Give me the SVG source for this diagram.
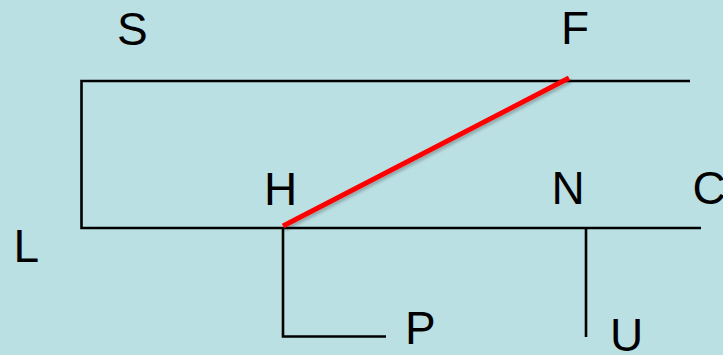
<svg xmlns="http://www.w3.org/2000/svg" width="723" height="355" viewBox="0 0 723 355">
<defs>
<style>
.ln{stroke:#000;stroke-width:2.6;fill:none}
.lb{font-family:"Liberation Sans",Arial,sans-serif;font-size:46px;fill:#000}
</style>
<filter id="sh" x="-10%" y="-10%" width="120%" height="130%">
<feDropShadow dx="1.5" dy="2.5" stdDeviation="1.5" flood-color="#000" flood-opacity="0.25"/>
</filter>
</defs>
<rect width="723" height="355" fill="#BBE0E3"/>
<g id="connectors">
<polyline class="ln" points="690,81 81.5,81 81.5,228 701,228"/>
<polyline class="ln" points="283,228 283,336.5 386,336.5"/>
<line class="ln" x1="586" y1="228" x2="586" y2="337"/>
<line x1="283" y1="226" x2="569" y2="78" stroke="#FF0000" stroke-width="5" filter="url(#sh)"/>
</g>
<g id="S"><text class="lb" x="117" y="45">S</text></g>
<g id="F"><text class="lb" x="561" y="43.5">F</text></g>
<g id="H"><text class="lb" x="264" y="205">H</text></g>
<g id="N"><text class="lb" x="551.5" y="204">N</text></g>
<g id="C"><text class="lb" x="692.5" y="204">C</text></g>
<g id="L"><text class="lb" x="13.5" y="262">L</text></g>
<g id="P"><text class="lb" x="405" y="344">P</text></g>
<g id="U"><text class="lb" x="610" y="351">U</text></g>
</svg>
